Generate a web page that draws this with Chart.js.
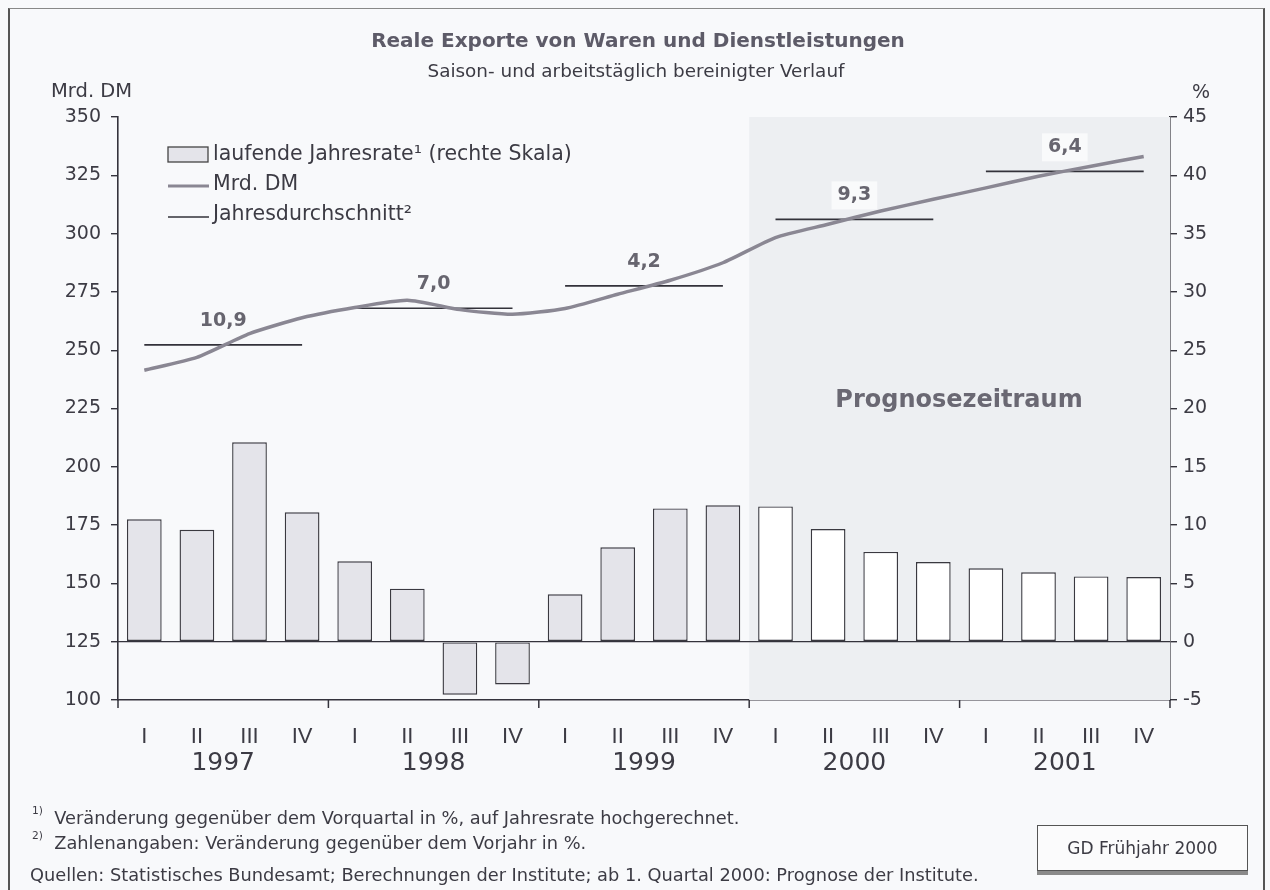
<!DOCTYPE html>
<html>
<head>
<meta charset="utf-8">
<script src="https://cdn.jsdelivr.net/npm/chart.js@4.4.1/dist/chart.umd.min.js"></script>
<style>
  html,body{margin:0;padding:0;background:#f8f9fb;}
  #wrap{position:relative;width:1270px;height:890px;overflow:hidden;font-family:'DejaVu Sans','Liberation Sans',Arial,sans-serif;color:#3c3b44;}
  #c{position:absolute;left:0;top:0;}
  .t{position:absolute;white-space:nowrap;}
  #frame{position:absolute;left:8px;top:8px;width:1253px;height:890px;border-left:2px solid #555;border-top:1px solid #888;border-right:2px solid #555;}
  sup{font-size:60%;vertical-align:top;position:relative;top:-3px;}
  #gd{position:absolute;left:1037px;top:825px;width:209px;height:44px;border:1px solid #555;background:#fbfbfc;box-shadow:0 4px 0 #8a8a8a;font-size:17px;line-height:44px;text-align:center;}
</style>
</head>
<body>
<div id="wrap">
  <canvas id="c" width="1270" height="890"></canvas>
  <div id="frame"></div>
  <div class="t" style="left:0;width:1276px;text-align:center;top:28px;font-size:20px;font-weight:bold;color:#5d5b68;">Reale Exporte von Waren und Dienstleistungen</div>
  <div class="t" style="left:0;width:1272px;text-align:center;top:60px;font-size:18.4px;">Saison- und arbeitstäglich bereinigter Verlauf</div>
  <div class="t" style="left:51px;top:79px;font-size:19.5px;">Mrd. DM</div>
  <div class="t" style="left:1192px;top:80px;font-size:19px;">%</div>
  <div class="t" style="left:32px;top:807px;font-size:17.8px;"><sup>1)</sup>&nbsp; Veränderung gegenüber dem Vorquartal in %, auf Jahresrate hochgerechnet.</div>
  <div class="t" style="left:32px;top:832px;font-size:17.8px;"><sup>2)</sup>&nbsp; Zahlenangaben: Veränderung gegenüber dem Vorjahr in %.</div>
  <div class="t" style="left:30px;top:864px;font-size:17.8px;">Quellen: Statistisches Bundesamt; Berechnungen der Institute; ab 1. Quartal 2000: Prognose der Institute.</div>
  <div id="gd">GD Frühjahr 2000</div>
</div>
<script>
// ---- data ----
const quarters = ["I","II","III","IV","I","II","III","IV","I","II","III","IV","I","II","III","IV","I","II","III","IV"];
const years = ["1997","1998","1999","2000","2001"];
const jahresrate = [10.5, 9.6, 17.1, 11.1, 6.9, 4.55, -4.55, -3.66, 4.06, 8.1, 11.43, 11.7, 11.6, 9.66, 7.7, 6.83, 6.3, 5.95, 5.6, 5.55];
const mrdDM = [241.4, 246.9, 257.1, 263.9, 268.3, 271.4, 267.4, 265.4, 267.9, 274.0, 280.0, 287.5, 298.3, 304.0, 309.7, 314.7, 319.6, 324.6, 328.9, 333.1];
const jahresdurchschnitt = [252.3, 268.0, 277.6, 306.1, 326.7];
const veraenderung = ["10,9", "7,0", "4,2", "9,3", "6,4"];
const leftTicks = [100, 125, 150, 175, 200, 225, 250, 275, 300, 325, 350];
const rightTicks = [-5, 0, 5, 10, 15, 20, 25, 30, 35, 40, 45];
const prognoseStart = 12;

const FONT = "'DejaVu Sans', 'Liberation Sans', Arial, sans-serif";
const NFONT = "'Liberation Sans', Arial, sans-serif";
const TXT = '#3c3b44';
const AX = '#34333c';

const avgDatasets = jahresdurchschnitt.map((v, k) => ({
  type: 'line',
  label: 'Jahresdurchschnitt ' + years[k],
  data: quarters.map((q, i) => (Math.floor(i / 4) === k ? v : null)),
  yAxisID: 'y',
  borderColor: '#33323a',
  borderWidth: 1.6,
  pointRadius: 0,
  spanGaps: false,
  order: 1
}));

const extras = {
  id: 'extras',
  beforeDatasetsDraw(chart) {
    const {ctx, chartArea: a, scales} = chart;
    const y1 = scales.y1;
    const cw = (a.right - a.left) / quarters.length;
    const sx = a.left + prognoseStart * cw;
    ctx.save();
    ctx.fillStyle = '#edeff2';
    ctx.fillRect(sx, a.top, a.right - sx, a.bottom - a.top);
    ctx.fillStyle = '#6a6873';
    ctx.font = "bold 24px " + FONT;
    ctx.textAlign = 'center';
    ctx.textBaseline = 'middle';
    ctx.fillText('Prognosezeitraum', 959, 401);
    const z = y1.getPixelForValue(0);
    ctx.strokeStyle = AX;
    ctx.lineWidth = 1.3;
    ctx.beginPath();
    ctx.moveTo(a.left, z); ctx.lineTo(a.right, z);
    ctx.stroke();
    ctx.restore();
  },
  afterDatasetsDraw(chart) {
    const {ctx, chartArea: a, scales} = chart;
    const x = scales.x, y = scales.y;
    const cw = (a.right - a.left) / quarters.length;
    ctx.save();
    ctx.strokeStyle = AX;
    ctx.lineWidth = 1.5;
    for (let k = 0; k <= years.length; k++) {
      const px = a.left + k * 4 * cw;
      ctx.beginPath(); ctx.moveTo(px, a.bottom); ctx.lineTo(px, a.bottom + 8); ctx.stroke();
    }
    ctx.fillStyle = TXT;
    ctx.font = "25px " + FONT;
    ctx.textAlign = 'center';
    ctx.textBaseline = 'middle';
    years.forEach((yr, k) => {
      const cx = (x.getPixelForValue(4 * k + 1) + x.getPixelForValue(4 * k + 2)) / 2;
      ctx.fillText(yr, cx, 763);
    });
    ctx.font = "bold 19px " + FONT;
    veraenderung.forEach((lab, k) => {
      const cx = (x.getPixelForValue(4 * k + 1) + x.getPixelForValue(4 * k + 2)) / 2;
      const cy = y.getPixelForValue(jahresdurchschnitt[k]) - 24;
      if (4 * k >= prognoseStart) {
        const w = ctx.measureText(lab).width + 12;
        ctx.fillStyle = '#f9fafb';
        ctx.fillRect(cx - w / 2, cy - 14, w, 28);
      }
      ctx.fillStyle = '#67656f';
      ctx.fillText(lab, cx, cy);
    });
    ctx.font = "20.5px " + FONT;
    ctx.textAlign = 'left';
    ctx.fillStyle = '#e4e4ea';
    ctx.fillRect(168, 147, 40, 15);
    ctx.strokeStyle = '#444';
    ctx.lineWidth = 1.3;
    ctx.strokeRect(168, 147, 40, 15);
    ctx.fillStyle = TXT;
    ctx.fillText('laufende Jahresrate\u00b9 (rechte Skala)', 213, 155);
    ctx.strokeStyle = '#8a8793';
    ctx.lineWidth = 3;
    ctx.beginPath(); ctx.moveTo(168, 186); ctx.lineTo(209, 186); ctx.stroke();
    ctx.fillText('Mrd. DM', 213, 185);
    ctx.strokeStyle = '#33323a';
    ctx.lineWidth = 1.6;
    ctx.beginPath(); ctx.moveTo(168, 217); ctx.lineTo(209, 217); ctx.stroke();
    ctx.fillText('Jahresdurchschnitt\u00b2', 213, 215);
    ctx.restore();
  }
};

new Chart(document.getElementById('c'), {
  data: {
    labels: quarters,
    datasets: [
      {
        type: 'line',
        label: 'Mrd. DM',
        data: mrdDM,
        yAxisID: 'y',
        borderColor: '#8a8793',
        borderWidth: 3.5,
        pointRadius: 0,
        tension: 0.2,
        order: 0
      },
      ...avgDatasets,
      {
        type: 'bar',
        label: 'laufende Jahresrate',
        data: jahresrate,
        yAxisID: 'y1',
        backgroundColor: jahresrate.map((v, i) => (i < prognoseStart ? '#e4e4ea' : '#ffffff')),
        borderColor: '#3a3940',
        borderWidth: 1.4,
        borderSkipped: false,
        categoryPercentage: 1,
        barPercentage: 0.66,
        order: 2
      }
    ]
  },
  options: {
    responsive: false,
    animation: false,
    devicePixelRatio: 1,
    layout: {padding: {top: 117, left: 0, right: 0, bottom: 0}},
    plugins: {legend: {display: false}, tooltip: {enabled: false}},
    scales: {
      x: {
        type: 'category',
        offset: true,
        grid: {display: false},
        border: {display: true, color: AX, width: 1.6},
        ticks: {color: TXT, font: {family: NFONT, size: 22}, padding: 16, maxRotation: 0, autoSkip: false},
        afterFit(s) { s.height = 190; }
      },
      y: {
        position: 'left',
        min: 100, max: 350,
        afterBuildTicks(s) { s.ticks = leftTicks.map(v => ({value: v})); },
        grid: {drawOnChartArea: false, drawTicks: true, tickLength: 7, color: AX, lineWidth: 1.4},
        border: {display: true, color: AX, width: 1.6},
        ticks: {color: TXT, font: {family: FONT, size: 19}, padding: 10},
        afterFit(s) { s.width = 118; }
      },
      y1: {
        position: 'right',
        min: -5, max: 45,
        afterBuildTicks(s) { s.ticks = rightTicks.map(v => ({value: v})); },
        grid: {drawOnChartArea: false, drawTicks: true, tickLength: 7, color: AX, lineWidth: 1.4},
        border: {display: true, color: AX, width: 1.6},
        ticks: {color: TXT, font: {family: FONT, size: 19}, padding: 6},
        afterFit(s) { s.width = 100; }
      }
    }
  },
  plugins: [extras]
});
</script>
</body>
</html>
